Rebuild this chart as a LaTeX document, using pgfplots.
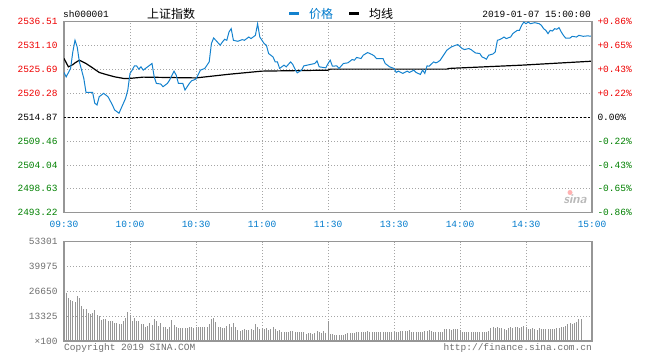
\documentclass[border=0pt]{standalone}
\usepackage{fontspec}
\setmainfont{Liberation Sans}
\setmonofont{Liberation Mono}
\newfontfamily\cjk{Noto Sans CJK SC}
\usepackage{pgfplots}
\pgfplotsset{compat=1.18}
\definecolor{sred}{RGB}{238,0,0}
\definecolor{sgreen}{RGB}{0,128,0}
\definecolor{sblue}{RGB}{0,122,204}
\definecolor{lineblue}{RGB}{20,130,206}
\definecolor{framec}{RGB}{150,150,150}
\definecolor{gridc}{RGB}{165,165,165}
\definecolor{vgray}{RGB}{150,150,150}
\definecolor{lgray}{RGB}{110,110,110}
\newcommand{\pf}{\ttfamily\fontsize{9.5bp}{11bp}\selectfont}
\newcommand{\cf}{\cjk\fontsize{12bp}{14bp}\selectfont}
\pgfplotsset{
  sinabase/.style={
    scale only axis, width=528bp, xmin=0, xmax=240,
    xtick={0,30,60,90,120,150,180,210,240},
    grid=major,
    major grid style={gridc, line width=0.8bp, dash pattern=on 1bp off 2bp},
    axis line style={framec, line width=1.5bp},
    major tick length=0pt, tick style={draw=none},
    ticklabel style={font=\pf},
    scaled y ticks=false,
  }
}
\begin{document}
\begin{tikzpicture}[x=1bp,y=1bp]
\path[use as bounding box] (0,0) rectangle (645,-361);
% ---------------- price panel ----------------
\begin{axis}[sinabase,
  at={(64bp,-21.7bp)}, anchor=north west, height=191bp,
  ymin=2493.22, ymax=2536.51,
  ytick={2493.22,2498.63,2504.04,2509.46,2514.87,2520.28,2525.69,2531.10,2536.51},
  yticklabels={\textcolor{sgreen}{2493.22},\textcolor{sgreen}{2498.63},\textcolor{sgreen}{2504.04},\textcolor{sgreen}{2509.46},\textcolor{black}{2514.87},\textcolor{sred}{2520.28},\textcolor{sred}{2525.69},\textcolor{sred}{2531.10},\textcolor{sred}{2536.51}},
  yticklabel style={xshift=-3bp},
  xticklabels={09:30,10:00,10:30,11:00,11:30,13:30,14:00,14:30,15:00},
  xticklabel style={text=sblue, yshift=-5bp},
]
\addplot[black, line width=1bp, dash pattern=on 2bp off 2bp] coordinates {(0,2514.87) (240,2514.87)};
\addplot[black, line width=1.2bp] coordinates {
(0,2528.17) (2,2526.28) (4,2526.77) (5,2527.18) (7,2527.79) (10,2527.04) (13,2526.05) (16,2525.01) (19,2524.56) (23,2524.02) (27,2523.66) (30,2523.66) (36,2523.95) (60,2523.77) (75,2524.6) (90,2525.31) (120,2525.53) (121,2525.76) (174,2525.76) (175,2525.92) (208,2526.66) (240,2527.56)};
\addplot[lineblue, line width=1bp] coordinates {
(0,2525.01) (1,2524.02) (3,2525.92) (4,2529.66) (5,2532.30) (6,2530.78) (7,2527.40) (9,2523.66) (10,2520.51) (13,2520.51) (14,2518.03) (15,2517.64) (16,2519.51) (18,2520.28) (20,2519.51) (22,2517.64) (23,2516.52) (25,2515.77) (26,2516.90) (28,2519.15) (29,2521.02) (30,2524.79) (31,2525.53) (32,2526.50) (33,2526.50) (34,2525.76) (35,2526.28) (36,2525.53) (38,2526.28) (40,2527.04) (41,2524.02) (42,2522.53) (44,2522.38) (45,2521.77) (47,2522.53) (48,2523.28) (50,2525.31) (51,2524.41) (52,2522.53) (54,2522.53) (55,2521.02) (57,2522.53) (58,2523.12) (60,2523.5) (62,2525.53) (64,2525.92) (66,2527.40) (67,2531.55) (68,2532.81) (69,2532.30) (71,2531.17) (72,2531.91) (73,2532.52) (74,2532.30) (75,2534.17) (76,2534.93) (77,2532.30) (79,2532.07) (81,2532.45) (82,2532.30) (84,2533.04) (85,2532.68) (87,2533.42) (88,2536.06) (89,2533.04) (91,2531.55) (92,2531.17) (93,2529.30) (95,2528.53) (96,2527.40) (97,2527.40) (98,2525.92) (100,2526.66) (101,2526.28) (103,2527.40) (104,2526.82) (105,2525.76) (106,2524.92) (108,2525.53) (109,2526.50) (112,2526.82) (114,2527.04) (115,2527.63) (116,2526.28) (119,2526.05) (120,2527.0) (121,2527.79) (122,2526.43) (124,2526.50) (125,2525.92) (127,2527.04) (129,2527.18) (131,2527.94) (132,2527.79) (133,2528.40) (135,2528.17) (136,2528.91) (138,2529.52) (140,2529.07) (141,2528.76) (142,2528.17) (145,2528.17) (146,2527.04) (148,2526.28) (150,2525.92) (151,2525.01) (152,2525.31) (154,2524.79) (156,2525.31) (157,2525.01) (159,2525.53) (160,2525.01) (162,2524.56) (163,2525.53) (164,2524.79) (165,2526.50) (166,2526.43) (168,2527.40) (169,2527.18) (170,2527.40) (171,2527.79) (172,2528.53) (174,2530.04) (176,2530.78) (178,2531.17) (179,2531.33) (181,2530.42) (182,2530.20) (184,2530.42) (185,2530.20) (187,2529.43) (189,2529.30) (190,2528.53) (191,2528.31) (192,2528.01) (193,2528.91) (195,2529.2) (196,2529.66) (197,2532.30) (198,2532.45) (199,2532.7) (200,2533.04) (201,2532.68) (203,2533.04) (204,2533.81) (206,2534.55) (207,2534.55) (208,2535.68) (209,2536.42) (210,2536.06) (211,2536.42) (212,2536.06) (214,2536.29) (216,2536.06) (217,2535.68) (218,2534.93) (219,2534.55) (220,2533.81) (221,2534.55) (222,2534.4) (223,2534.93) (224,2534.8) (225,2535.16) (226,2534.2) (227,2533.42) (228,2532.81) (230,2532.81) (231,2533.20) (233,2533.04) (234,2533.42) (236,2533.2) (238,2533.3) (240,2533.20)};
\end{axis}
% right percentage labels
\begin{axis}[
  scale only axis, width=528bp, height=191bp,
  at={(64bp,-21.7bp)}, anchor=north west,
  xmin=0, xmax=240, ymin=2493.22, ymax=2536.51,
  axis x line=none, axis y line*=right,
  axis line style={framec, line width=1.5bp},
  major tick length=0pt, tick style={draw=none},
  ticklabel style={font=\pf},
  ytick={2493.22,2498.63,2504.04,2509.46,2514.87,2520.28,2525.69,2531.10,2536.51},
  yticklabels={\textcolor{sgreen}{-0.86\%},\textcolor{sgreen}{-0.65\%},\textcolor{sgreen}{-0.43\%},\textcolor{sgreen}{-0.22\%},\textcolor{black}{0.00\%},\textcolor{sred}{+0.22\%},\textcolor{sred}{+0.43\%},\textcolor{sred}{+0.65\%},\textcolor{sred}{+0.86\%}},
  yticklabel style={xshift=2bp},
]
\end{axis}
% ---------------- volume panel ----------------
\begin{axis}[sinabase,
  at={(64bp,-241.7bp)}, anchor=north west, height=99.3bp,
  ymin=0, ymax=53301,
  ytick={0,13325,26650,39975,53301},
  yticklabels={×100,13325,26650,39975,53301},
  yticklabel style={xshift=-3bp, text=lgray},
  xticklabels={},
]
\addplot[ycomb, vgray, line width=1bp] table {
x y
1 25597
2 22912
3 22017
4 21480
5 21122
6 24344
7 22912
8 18795
9 17184
10 17184
11 15215
12 14499
13 15215
14 16647
15 13962
16 13425
17 11277
18 11635
19 11814
20 10919
21 10919
22 10919
23 9845
24 9487
25 9129
26 9129
27 10919
28 12530
29 15752
30 13962
31 10919
32 12530
33 10919
34 10919
35 9129
36 9129
37 7697
38 8055
39 9487
40 8592
41 11635
42 10919
43 8234
44 9487
45 7339
46 7339
47 6265
48 7697
49 11277
50 8592
51 7339
52 6802
53 6802
54 6802
55 6802
56 7160
57 7697
58 7697
59 6802
60 7339
61 7697
62 7697
63 7339
64 7697
65 7697
66 9129
67 11635
68 12172
69 10024
70 7697
71 7339
72 6802
73 6802
74 8234
75 8950
76 7697
77 9487
78 7339
79 5907
80 5549
81 5907
82 6444
83 5907
84 5907
85 6265
86 5907
87 8950
88 7697
89 6444
90 7160
91 6444
92 6802
93 5907
94 6444
95 7697
96 6444
97 5370
98 5907
99 4654
100 4654
101 4654
102 5012
103 5549
104 5549
105 4654
106 4654
107 4654
108 5012
109 5012
110 3759
111 4117
112 4117
113 3759
114 4117
115 5370
116 4654
117 4117
118 5549
119 4475
120 10919
121 3759
122 3759
123 3222
124 3222
125 3222
126 3222
127 3222
128 3759
129 4117
130 4117
131 4117
132 4117
133 4654
134 5012
135 5012
136 5012
137 5012
138 5370
139 4654
140 5012
141 4654
142 4654
143 4654
144 5012
145 5012
146 5012
147 5012
148 5012
149 5012
150 5012
151 5012
152 5012
153 5370
154 5549
155 5549
156 5370
157 5907
158 4654
159 4654
160 4654
161 4654
162 5012
163 5012
164 5370
165 5549
166 5907
167 5549
168 5012
169 5012
170 5012
171 4654
172 5012
173 6265
174 6265
175 6265
176 5907
177 6265
178 6444
179 6265
180 5907
181 5012
182 5012
183 5012
184 4654
185 4654
186 5012
187 5012
188 5012
189 5012
190 5012
191 5012
192 5012
193 5549
194 6802
195 7339
196 7160
197 7339
198 7160
199 6802
200 6265
201 5907
202 7160
203 7339
204 7160
205 7697
206 7697
207 7160
208 7697
209 8055
210 7339
211 6444
212 6444
213 6802
214 6444
215 5907
216 6802
217 6444
218 6265
219 6265
220 6265
221 6444
222 6444
223 6444
224 6802
225 7160
226 7697
227 7339
228 8234
229 9129
230 9845
231 9129
232 9845
233 10382
234 11814
235 11814
236 537
};
\end{axis}
% ---------------- header and footer texts ----------------
\node[anchor=west, inner sep=0] at (63,-14) {\pf sh000001};
\node[inner sep=0] at (171,-14) {\cf 上证指数};
\draw[lineblue, line width=3bp] (289,-13.5) -- (299,-13.5);
\node[anchor=west, inner sep=0, text=sblue] at (309,-14) {\cf 价格};
\draw[black, line width=3bp] (349,-13.5) -- (359,-13.5);
\node[anchor=west, inner sep=0] at (369,-14) {\cf 均线};
\node[anchor=east, inner sep=0] at (591,-14) {\pf 2019-01-07 15:00:00};
\node[anchor=west, inner sep=0, text=lgray] at (64,-348) {\pf Copyright 2019 SINA.COM};
\node[anchor=east, inner sep=0, text=lgray] at (592,-348) {\pf http://finance.sina.com.cn};
\node[inner sep=0, text=gray!55] at (575,-199) {\sffamily\bfseries\itshape\fontsize{13bp}{14bp}\selectfont sina};
\fill[red!30] (570,-192.5) circle (2.5bp);
\end{tikzpicture}
\end{document}
